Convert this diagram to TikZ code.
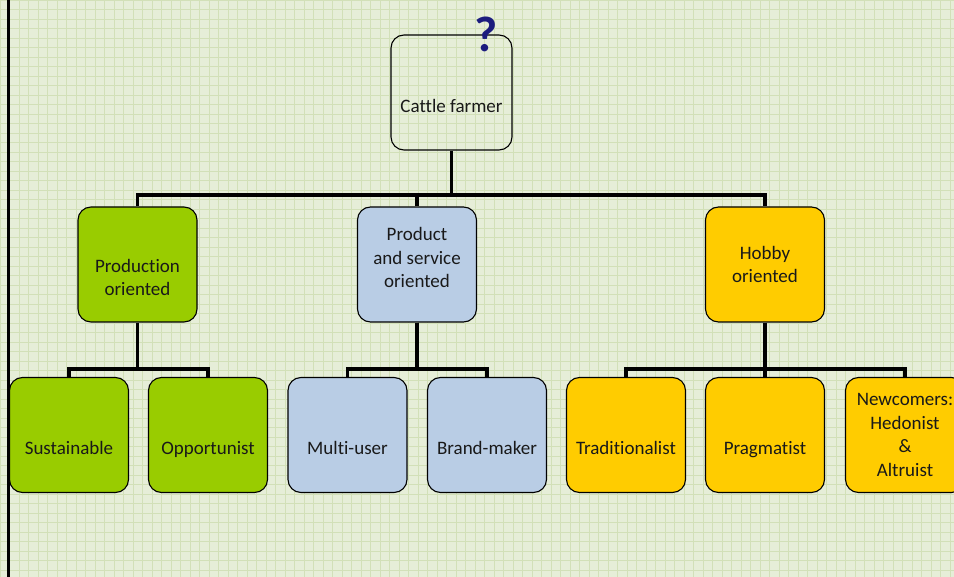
\documentclass[tikz,border=0pt]{standalone}
\usepackage{fontspec}
\setmainfont[Ligatures=NoCommon]{Carlito}
\definecolor{bggreen}{HTML}{E6EED8}
\definecolor{gridgreen}{HTML}{D2E0B8}
\definecolor{prodgreen}{HTML}{99CC00}
\definecolor{servblue}{HTML}{B9CDE5}
\definecolor{hobbygold}{HTML}{FFCC00}
\definecolor{qnavy}{HTML}{1C1C7E}
\begin{document}
\begin{tikzpicture}[x=1pt,y=-1pt,
    box/.style={draw, line width=1.1pt, rounded corners=13pt, minimum width=119pt,
        minimum height=115pt, inner sep=2pt, align=center, text=black!90,
        font=\fontsize{19}{23.5}\selectfont},
    onerow/.style={text height=46pt, text depth=6pt},
    conn/.style={line width=3.6pt}]
    \useasboundingbox (0,0) rectangle (954,577);

    % background paper
    \fill[bggreen] (0,0) rectangle (954,577);
    \foreach \i in {0,9.5,...,950} \draw[gridgreen, line width=0.5pt] (\i,0) -- (\i,577);
    \foreach \j in {0,9.5,...,575} \draw[gridgreen, line width=0.5pt] (0,\j) -- (954,\j);
    \draw[line width=3pt] (8,0) -- (8,577);

    \node[box, onerow, minimum width=121pt] (farmer) at (451.5,92.5) {Cattle farmer};
    \node[font=\bfseries\fontsize{50}{50}\selectfont, text=qnavy] (qmark) at (486,34) {?};

    \node[box, fill=prodgreen, text height=70pt, text depth=7pt] (prod) at (137.5,264.5) {Production\\oriented};
    \node[box, fill=servblue, text height=54pt, text depth=7pt] (serv) at (417,264.5) {Product\\and service\\oriented};
    \node[box, fill=hobbygold] (hobby) at (765,264.5) {Hobby\\oriented};

    \node[box, onerow, fill=prodgreen] (sust) at (69,435) {Sustainable};
    \node[box, onerow, fill=prodgreen] (opp) at (208,435) {Opportunist};
    \node[box, onerow, fill=servblue] (multi) at (347.5,435) {Multi-user};
    \node[box, onerow, fill=servblue] (brand) at (487,435) {Brand-maker};
    \node[box, onerow, fill=hobbygold] (trad) at (626,435) {Traditionalist};
    \node[box, onerow, fill=hobbygold] (prag) at (765,435) {Pragmatist};
    \node[box, fill=hobbygold] (newc) at (905,435) {Newcomers:\\Hedonist\\\&\\Altruist};

    \coordinate (bus) at (0,195);
    \coordinate (lowbus) at (0,369);

    \draw[conn] (farmer.south) -- (farmer.south |- bus);
    \draw[conn] (prod.north) -- (prod.north |- bus) -- (hobby.north |- bus) -- (hobby.north);
    \draw[conn] (serv.north) -- (serv.north |- bus);

    \draw[conn] (prod.south) -- (prod.south |- lowbus);
    \draw[conn] (sust.north) -- (sust.north |- lowbus) -- (opp.north |- lowbus) -- (opp.north);
    \draw[conn] (serv.south) -- (serv.south |- lowbus);
    \draw[conn] (multi.north) -- (multi.north |- lowbus) -- (brand.north |- lowbus) -- (brand.north);
    \draw[conn] (hobby.south) -- (prag.north);
    \draw[conn] (trad.north) -- (trad.north |- lowbus) -- (newc.north |- lowbus) -- (newc.north);
\end{tikzpicture}
\end{document}
